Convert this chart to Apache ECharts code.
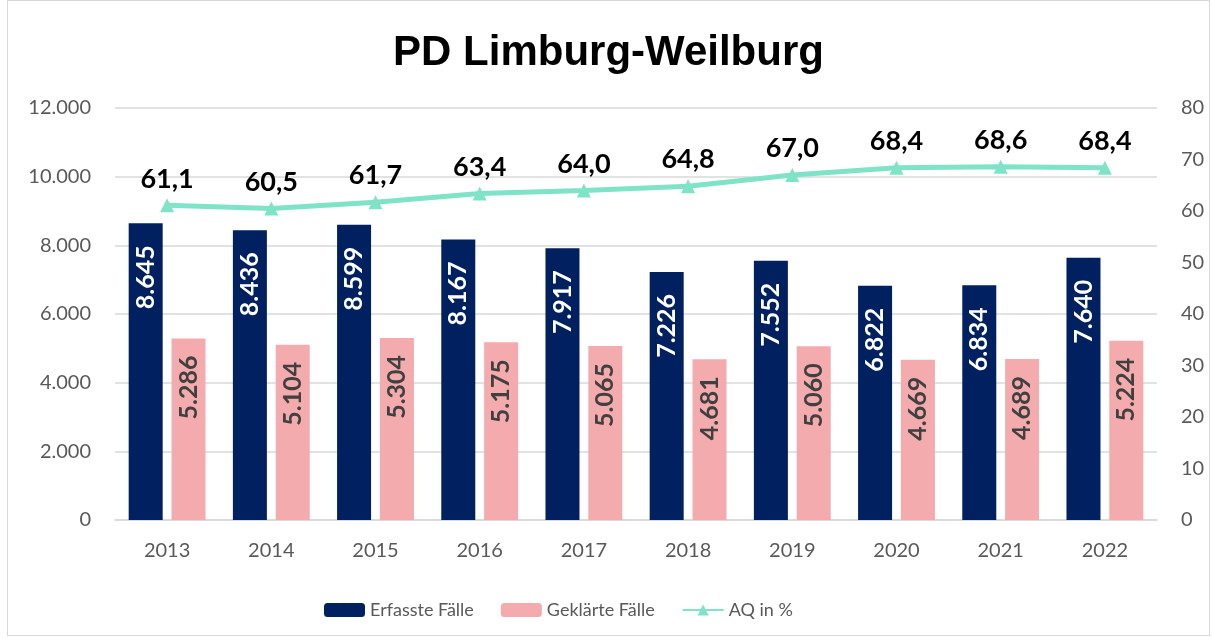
<!DOCTYPE html>
<html>
<head>
<meta charset="utf-8">
<script src="https://cdn.jsdelivr.net/npm/echarts@6/dist/echarts.min.js"></script>
<style>
    html, body { margin: 0; padding: 0; background: #fff; }
    #main { position: absolute; left: 7px; top: 0; width: 1203px; height: 636px; border: 1px solid #d9d9d9; box-sizing: border-box; }
</style>
</head>
<body>
<div id="main"></div>
<script>
    var years = ['2013', '2014', '2015', '2016', '2017', '2018', '2019', '2020', '2021', '2022'];
    var erfasst = [8645, 8436, 8599, 8167, 7917, 7226, 7552, 6822, 6834, 7640];
    var geklaert = [5286, 5104, 5304, 5175, 5065, 4681, 5060, 4669, 4689, 5224];
    var aq = [61.1, 60.5, 61.7, 63.4, 64.0, 64.8, 67.0, 68.4, 68.6, 68.4];

    var font = 'Lato, "Open Sans", sans-serif';

    // Tausenderpunkt wie im Original
    function de(v) {
        return String(v).replace(/\B(?=(\d{3})+(?!\d))/g, '.');
    }

    var chart = echarts.init(document.getElementById('main'));
    var option = {
        animation: false,
        textStyle: { fontFamily: font },
        title: {
            text: 'PD Limburg-Weilburg',
            left: 'center',
            top: 26,
            textStyle: { fontSize: 42, fontWeight: 'bold', color: '#000', fontFamily: 'Liberation Sans, Arial, sans-serif' }
        },
        legend: {
            bottom: 16,
            left: 316,
            padding: 0,
            itemWidth: 41,
            itemHeight: 14,
            itemGap: 27,
            textStyle: { fontSize: 18, color: '#595959' },
            data: ['Erfasste Fälle', 'Geklärte Fälle', 'AQ in %']
        },
        grid: { left: 107, right: 52, top: 107, bottom: 115 },
        xAxis: {
            type: 'category',
            data: years,
            axisLine: { lineStyle: { color: '#d9d9d9', width: 1.5 } },
            axisTick: { show: false },
            axisLabel: { fontSize: 20, color: '#595959', margin: 21 }
        },
        yAxis: [
            {
                type: 'value',
                min: 0, max: 12000, interval: 2000,
                axisLabel: { fontSize: 20, color: '#595959', margin: 24, formatter: function (v) { return de(v); } },
                splitLine: { lineStyle: { color: '#d9d9d9', width: 1.5 } }
            },
            {
                type: 'value',
                min: 0, max: 80, interval: 10,
                axisLabel: { fontSize: 20, color: '#595959', margin: 24 },
                splitLine: { show: false }
            }
        ],
        series: [
            {
                name: 'Erfasste Fälle',
                type: 'bar',
                data: erfasst,
                barWidth: 34,
                barGap: '26%',
                itemStyle: { color: '#002060' },
                label: {
                    show: true,
                    position: 'insideTop',
                    rotate: 90,
                    align: 'right',
                    verticalAlign: 'middle',
                    distance: 22,
                    fontSize: 25,
                    fontWeight: 'bold',
                    color: '#fff',
                    formatter: function (p) { return de(p.value); }
                }
            },
            {
                name: 'Geklärte Fälle',
                type: 'bar',
                data: geklaert,
                barWidth: 34,
                itemStyle: { color: '#f4abae' },
                label: {
                    show: true,
                    position: 'insideTop',
                    rotate: 90,
                    align: 'right',
                    verticalAlign: 'middle',
                    distance: 17,
                    fontSize: 25,
                    fontWeight: 'bold',
                    color: '#404040',
                    formatter: function (p) { return de(p.value); }
                }
            },
            {
                name: 'AQ in %',
                type: 'line',
                yAxisIndex: 1,
                data: aq,
                symbol: 'triangle',
                symbolSize: 14,
                lineStyle: { color: '#7fe3c8', width: 5 },
                itemStyle: { color: '#7fe3c8' },
                label: {
                    show: true,
                    position: 'top',
                    distance: 6,
                    fontSize: 27,
                    fontWeight: 'bold',
                    color: '#000',
                    formatter: function (p) { return p.value.toFixed(1).replace('.', ','); }
                }
            }
        ]
    };
    chart.setOption(option);
</script>
</body>
</html>
